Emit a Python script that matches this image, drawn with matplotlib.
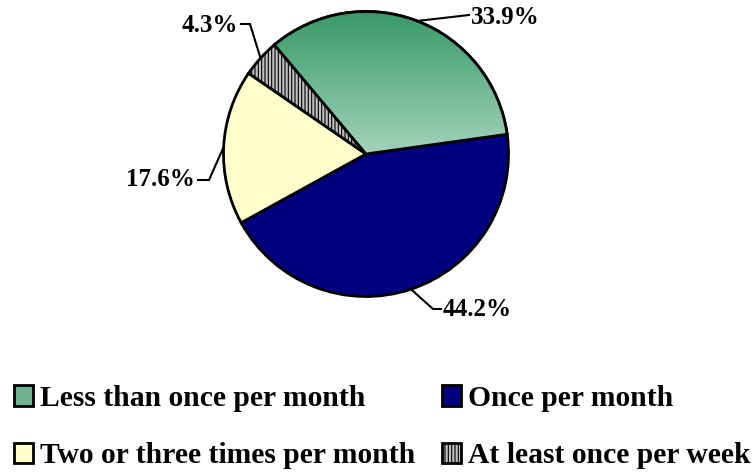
import numpy as np
import matplotlib
matplotlib.use("Agg")
import matplotlib.pyplot as plt
from matplotlib.colors import LinearSegmentedColormap
from matplotlib.patches import Wedge

# ---- data ----
categories = ["Less than once per month", "Once per month",
              "Two or three times per month", "At least once per week"]
values = [33.9, 44.2, 17.6, 4.3]
pct_labels = ["33.9%", "44.2%", "17.6%", "4.3%"]

# ---- style ----
colors = ["#6DB38F", "#000080", "#FFFFCC", "#C0C0C0"]
hatches = [None, None, None, "|||||"]
plt.rcParams["hatch.linewidth"] = 0.8
plt.rcParams["font.family"] = ["Liberation Serif", "DejaVu Serif"]

W, H = 755, 472
fig = plt.figure(figsize=(W / 100, H / 100), dpi=100)
ax = fig.add_axes([0, 0, 1, 1])

def py(y):  # pixel row -> data y
    return H - y

LW = 2.0
cx, cy, r = 366, py(154), 142.5
wedges, _ = ax.pie(values, colors=colors, startangle=130, counterclock=False,
                   center=(cx, cy), radius=r, frame=True,
                   wedgeprops=dict(edgecolor="black", linewidth=LW))
ax.set_xlim(0, W)
ax.set_ylim(0, H)
ax.axis("off")
for w, h in zip(wedges, hatches):
    if h:
        w.set_hatch(h)

# gradient fill for the first wedge
cmap = LinearSegmentedColormap.from_list("g", ["#389966", "#A3D3BC"])
grad = np.linspace(0, 1, 256).reshape(-1, 1)
im = ax.imshow(grad, cmap=cmap, aspect="auto", origin="upper",
               extent=[cx - r, cx + r, cy, cy + r], zorder=wedges[0].get_zorder() + 0.1)
im.set_clip_path(wedges[0])
w0 = wedges[0]
ax.add_patch(Wedge((cx, cy), r, w0.theta1, w0.theta2, facecolor="none",
                   edgecolor="black", linewidth=LW, zorder=im.get_zorder() + 0.1))

# label layout: (elbow x, elbow y, text x, text y, ha) in pixel coords
layout = {
    "33.9%": (469, 15, 471, 18, "left"),
    "44.2%": (433, 309, 443, 310, "left"),
    "17.6%": (209, 180, 195, 180, "right"),
    "4.3%": (250, 24, 238, 25, "right"),
}
for w, lab in zip(wedges, pct_labels):
    mid = np.deg2rad((w.theta1 + w.theta2) / 2)
    ex, ey = cx + r * np.cos(mid), cy + r * np.sin(mid)
    bx, by, tx, ty, ha = layout[lab]
    endx = tx + (3 if ha == "right" else -2)
    ax.plot([ex, bx, endx], [ey, py(by), py(by)], color="black", lw=1.5,
            solid_joinstyle="miter", zorder=5)
    ax.text(tx, py(ty), lab, ha=ha, va="center", fontsize=18,
            fontweight="bold", color="black")

order = [0, 2, 1, 3]
leg = ax.legend([wedges[i] for i in order], [categories[i] for i in order],
                ncol=2, loc="upper left", bbox_to_anchor=(14, py(385)),
                bbox_transform=ax.transData, frameon=False,
                prop=dict(family="Liberation Serif", weight="bold", size=21.3),
                handlelength=0.64, handleheight=0.68, handletextpad=0.24,
                columnspacing=0.9, labelspacing=1.02, borderpad=0, borderaxespad=0)

fig.savefig("out.png", dpi=100)
